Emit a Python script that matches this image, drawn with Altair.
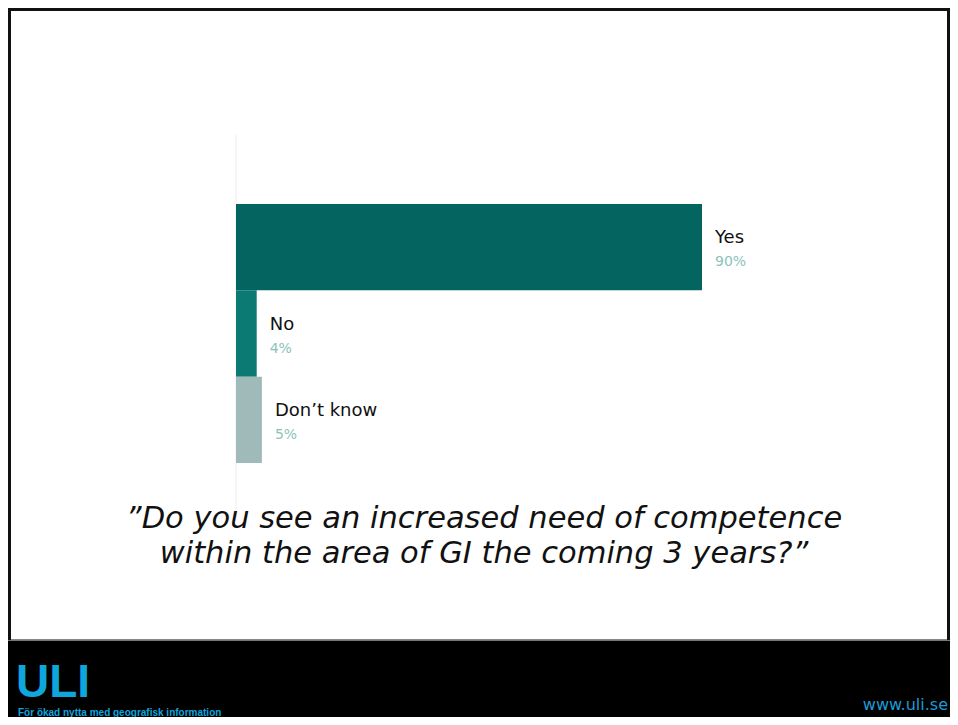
import altair as alt
import pandas as pd

# ---- data ----
categories = ["Yes", "No", "Don’t know"]
values = [90, 4, 5]
pct_labels = ["90%", "4%", "5%"]
bar_colors = ["#046460", "#0a7a73", "#a0b9b9"]
question_lines = [
    "”Do you see an increased need of competence",
    "within the area of GI the coming 3 years?”",
]
logo_text = "ULI"
tagline = "För ökad nytta med geografisk information"
url_text = "www.uli.se"

W, H = 942, 709

df = pd.DataFrame({"cat": categories, "value": values, "pct": pct_labels})

xscale = alt.Scale(domain=[0, 90], range=[228, 694])
yscale = alt.Scale(domain=categories, range=[196, 455], paddingInner=0, paddingOuter=0)
cscale = alt.Scale(domain=categories, range=bar_colors)

one = alt.Data(values=[{"k": 1}])

# slide frame
frame = alt.Chart(one).mark_rect(fill="white", stroke="#111111", strokeWidth=3).encode(
    x=alt.value(1.5), x2=alt.value(W - 1.5), y=alt.value(1.5), y2=alt.value(633)
)
footer = alt.Chart(one).mark_rect(fill="black").encode(
    x=alt.value(0), x2=alt.value(W), y=alt.value(633), y2=alt.value(H)
)
footer_line = alt.Chart(one).mark_rule(color="#777777", strokeWidth=1).encode(
    x=alt.value(0), x2=alt.value(W), y=alt.value(632.5)
)

# axis line
axis_line = alt.Chart(one).mark_rule(color="#ececec", strokeWidth=1).encode(
    x=alt.X(datum=0, type="quantitative", scale=xscale, axis=None),
    y=alt.value(127), y2=alt.value(512),
)

base = alt.Chart(df)
bars = base.mark_bar().encode(
    x=alt.X("value:Q", scale=xscale, axis=None),
    y=alt.Y("cat:N", scale=yscale, sort=categories, axis=None),
    color=alt.Color("cat:N", scale=cscale, legend=None),
)
cat_labels = base.mark_text(
    align="left", baseline="alphabetic", dx=13, dy=-4,
    font="DejaVu Sans", fontSize=18, color="#111111",
).encode(
    x=alt.X("value:Q", scale=xscale, axis=None),
    y=alt.Y("cat:N", scale=yscale, sort=categories, axis=None),
    text="cat:N",
)
pct_text = base.mark_text(
    align="left", baseline="alphabetic", dx=13, dy=19,
    font="DejaVu Sans", fontSize=14, color="#8cc2bb",
).encode(
    x=alt.X("value:Q", scale=xscale, axis=None),
    y=alt.Y("cat:N", scale=yscale, sort=categories, axis=None),
    text="pct:N",
)

question = alt.Chart(one).mark_text(
    align="center", baseline="alphabetic", font="DejaVu Sans", fontSize=30.5,
    fontStyle="italic", color="#111111", lineHeight=35,
    text=question_lines,
).encode(x=alt.value(476), y=alt.value(520))

logo = alt.Chart(one).mark_text(
    align="left", baseline="alphabetic", font="Liberation Sans",
    fontSize=46, fontWeight="bold", color="#0ea6dc", text=logo_text,
).encode(x=alt.value(8), y=alt.value(689))
tag = alt.Chart(one).mark_text(
    align="left", baseline="alphabetic", font="Liberation Sans",
    fontSize=10, fontWeight="bold", color="#0ea6dc", text=tagline,
).encode(x=alt.value(10), y=alt.value(708))
url = alt.Chart(one).mark_text(
    align="right", baseline="alphabetic", font="DejaVu Sans",
    fontSize=16, color="#1e9ad6", text=url_text,
).encode(x=alt.value(W - 2), y=alt.value(702))

chart = alt.layer(
    frame, footer, footer_line, axis_line, bars, cat_labels, pct_text, question, logo, tag, url
).properties(
    width=W, height=H, autosize=alt.AutoSizeParams(type="none"), padding=0,
    background="white",
).configure_view(stroke=None)

chart.save("out.html", embed_options={"renderer": "svg", "actions": False})
